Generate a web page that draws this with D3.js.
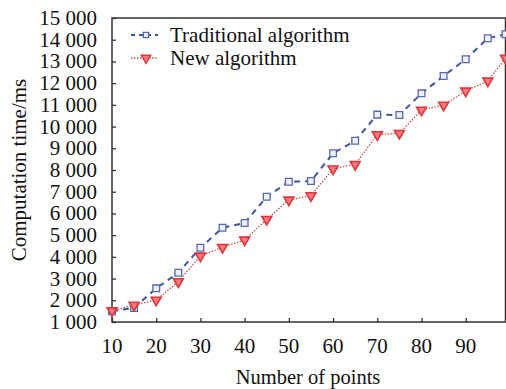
<!DOCTYPE html>
<html>
<head>
<meta charset="utf-8">
<script src="https://cdn.jsdelivr.net/npm/d3@7"></script>
<style>
  body { margin: 0; background: #fff; }
  text { font-family: "Liberation Serif", "Times New Roman", serif; fill: #111; }
</style>
</head>
<body>
<div id="chart"></div>
<script>
// number of points
var points = [10, 15, 20, 25, 30, 35, 40, 45, 50, 55, 60, 65, 70, 75, 80, 85, 90, 95, 99];
// computation time, ms
var traditional = [1500, 1650, 2550, 3270, 4420, 5340, 5560, 6770, 7460, 7490, 8770, 9350, 10550, 10530, 11530, 12330, 13100, 14070, 14250];
var newAlg = [1520, 1780, 2010, 2860, 4040, 4440, 4780, 5730, 6620, 6820, 8050, 8260, 9630, 9690, 10760, 10990, 11640, 12100, 13150];
var xTicks = [10, 20, 30, 40, 50, 60, 70, 80, 90];
var yTicks = d3.range(1000, 15001, 1000);
var seriesNames = ["Traditional algorithm", "New algorithm"];

var width = 506, height = 389;
var margin = { top: 18, left: 112, right: 0, bottom: 67 };

var svg = d3.select("#chart").append("svg")
  .attr("width", width)
  .attr("height", height);

var x = d3.scaleLinear().domain([10, 99]).range([margin.left, 505.5]);
var y = d3.scaleLinear().domain([1000, 15000]).range([322, margin.top]);

// "15 000" style labels
var fmt = function(d) { return Math.floor(d / 1000) + " 000"; };

// frame
svg.append("rect")
  .attr("x", x.range()[0]).attr("y", y.range()[1])
  .attr("width", x.range()[1] - x.range()[0])
  .attr("height", y.range()[0] - y.range()[1])
  .attr("fill", "none").attr("stroke", "#333").attr("stroke-width", 1.5);

// y axis ticks (inward)
svg.append("g")
  .attr("transform", "translate(" + margin.left + ",0)")
  .call(d3.axisRight(y).tickValues(yTicks).tickSize(4).tickFormat(""))
  .call(function(g) { g.select(".domain").remove(); })
  .selectAll("line").attr("stroke", "#333").attr("stroke-width", 1.3);

svg.append("g").selectAll("text")
  .data(yTicks).enter().append("text")
  .attr("x", 97)
  .attr("y", function(d) { return y(d) + 7; })
  .attr("text-anchor", "end")
  .style("font-size", "21px")
  .text(fmt);

// x axis ticks (inward)
svg.append("g")
  .attr("transform", "translate(0," + y.range()[0] + ")")
  .call(d3.axisTop(x).tickValues(xTicks).tickSize(4).tickFormat(""))
  .call(function(g) { g.select(".domain").remove(); })
  .selectAll("line").attr("stroke", "#333").attr("stroke-width", 1.3);

svg.append("g").selectAll("text")
  .data(xTicks).enter().append("text")
  .attr("x", function(d) { return x(d); })
  .attr("y", 353)
  .attr("text-anchor", "middle")
  .style("font-size", "21px")
  .text(function(d) { return d; });

// axis titles
svg.append("text")
  .attr("x", 308).attr("y", 384)
  .attr("text-anchor", "middle")
  .style("font-size", "20.5px")
  .text("Number of points");

svg.append("text")
  .attr("transform", "translate(26,170) rotate(-90)")
  .attr("text-anchor", "middle")
  .style("font-size", "21px")
  .text("Computation time/ms");

var line = function(vals) {
  return d3.line()
    .x(function(d, i) { return x(points[i]); })
    .y(function(d) { return y(d); })(vals);
};

var blue = "#3b55a4", red = "#e0353b", redLine = "#c9504f";

// traditional: dashed blue with squares
svg.append("path")
  .attr("d", line(traditional))
  .attr("fill", "none").attr("stroke", blue)
  .attr("stroke-width", 2).attr("stroke-dasharray", "6,5");

// new: dotted red with down triangles
svg.append("path")
  .attr("d", line(newAlg))
  .attr("fill", "none").attr("stroke", redLine)
  .attr("stroke-width", 1.3).attr("stroke-dasharray", "1.5,1.5");

var square = d3.symbol().type(d3.symbolSquare).size(45);
var tri = d3.symbol().type(d3.symbolTriangle).size(42);

svg.append("g").selectAll("path")
  .data(traditional).enter().append("path")
  .attr("d", square)
  .attr("transform", function(d, i) { return "translate(" + x(points[i]) + "," + y(d) + ")"; })
  .attr("fill", "#eef1fa").attr("stroke", "#5868b0").attr("stroke-width", 1.3);

svg.append("g").selectAll("path")
  .data(newAlg).enter().append("path")
  .attr("d", tri)
  .attr("transform", function(d, i) { return "translate(" + x(points[i]) + "," + y(d) + ") rotate(180)"; })
  .attr("fill", "#f47c80").attr("stroke", red).attr("stroke-width", 1.6);

// legend
var legend = svg.append("g");
[0, 1].forEach(function(k) {
  var ly = 35 + k * 23;
  legend.append("line")
    .attr("x1", 131).attr("x2", 158).attr("y1", ly).attr("y2", ly)
    .attr("stroke", k === 0 ? blue : redLine)
    .attr("stroke-width", k === 0 ? 2 : 1.3)
    .attr("stroke-dasharray", k === 0 ? "4,4" : "1.5,1.5");
  legend.append("path")
    .attr("d", k === 0 ? d3.symbol().type(d3.symbolSquare).size(28)() : d3.symbol().type(d3.symbolTriangle).size(38)())
    .attr("transform", "translate(146," + ly + ")" + (k === 1 ? " rotate(180)" : ""))
    .attr("fill", k === 0 ? "#eef1fa" : "#f47c80")
    .attr("stroke", k === 0 ? "#5868b0" : red).attr("stroke-width", 1.4);
  legend.append("text")
    .attr("x", 170).attr("y", ly + 7)
    .style("font-size", "21px")
    .text(seriesNames[k]);
});
</script>
</body>
</html>
